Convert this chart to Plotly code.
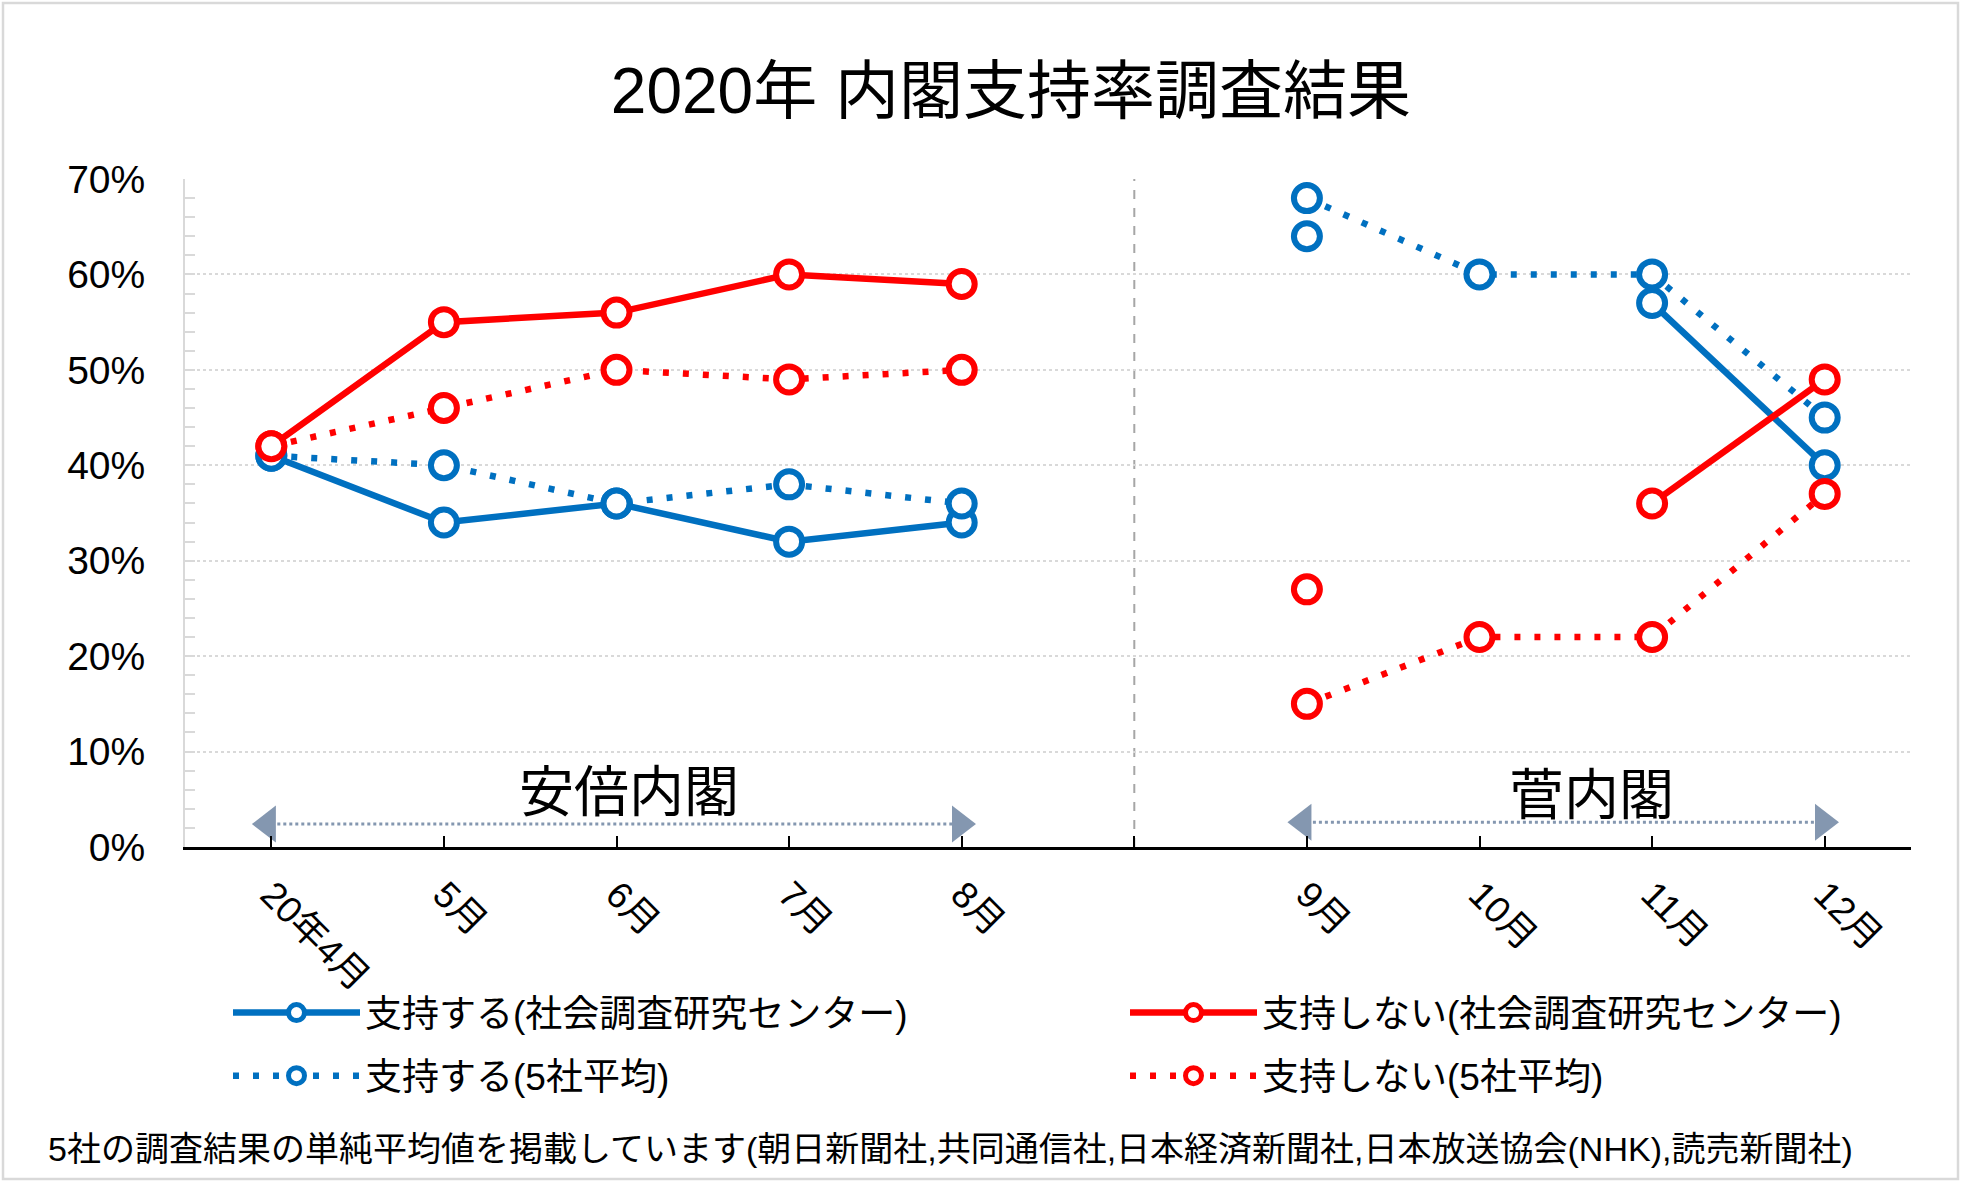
import plotly.graph_objects as go

# ---------------- data ----------------
categories = ["20年4月", "5月", "6月", "7月", "8月", "", "9月", "10月", "11月", "12月"]
support_center = [41, 34, 36, 32, 34, None, 64, None, 57, 40]
oppose_center = [42, 55, 56, 60, 59, None, 27, None, 36, 49]
support_avg5 = [41, 40, 36, 38, 36, None, 68, 60, 60, 45]
oppose_avg5 = [42, 46, 50, 49, 50, None, 15, 22, 22, 37]
series_names = ["支持する(社会調査研究センター)", "支持しない(社会調査研究センター)",
                "支持する(5社平均)", "支持しない(5社平均)"]
y_ticks = [0, 10, 20, 30, 40, 50, 60, 70]
y_tick_labels = ["0%", "10%", "20%", "30%", "40%", "50%", "60%", "70%"]
cabinet_labels = ["安倍内閣", "菅内閣"]
cabinet_spans = [("20年4月", "8月"), ("9月", "12月")]
title_text = "2020年 内閣支持率調査結果"
footnote = "5社の調査結果の単純平均値を掲載しています(朝日新聞社,共同通信社,日本経済新聞社,日本放送協会(NHK),読売新聞社)"

# ---------------- style ----------------
W, H = 1961, 1182
L, R, T, B = 185, 50, 179, 335
PW, PH = W - L - R, H - T - B
BLUE = "#0070C0"
RED = "#FF0000"
ARROW = "#8497B0"
FONT = "Liberation Sans, Arial, Noto Sans CJK JP, sans-serif"

xs = list(range(len(categories)))


def px_to_paper_x(px):
    return (px - L) / PW


def px_to_paper_y(py):
    return (H - B - py) / PH


fig = go.Figure()

specs = [
    (support_center, BLUE, "solid", series_names[0], "legend"),
    (oppose_center, RED, "solid", series_names[1], "legend2"),
    (support_avg5, BLUE, "6px,14px", series_names[2], "legend"),
    (oppose_avg5, RED, "6px,14px", series_names[3], "legend2"),
]
for k, (vals, col, dash, name, lg) in enumerate(specs):
    fig.add_trace(go.Scatter(
        x=xs, y=vals, name=name, mode="lines+markers",
        connectgaps=False, legend=lg, legendgroup=f"g{k}",
        line=dict(color=col, width=6.5, dash=dash),
        marker=dict(symbol="circle", size=26, color="white",
                    line=dict(color=col, width=6)),
    ))

# cabinet period arrows
gap_index = categories.index("")
for (a, b), label, ly, ty, dx in zip(cabinet_spans, cabinet_labels, [2.4, 2.6], [5.75, 5.5], [0.07, 0.15]):
    i0, i1 = categories.index(a), categories.index(b)
    fig.add_shape(type="line", x0=i0, x1=i1, y0=ly, y1=ly, xref="x", yref="y",
                  line=dict(color=ARROW, width=3, dash="dot"), layer="below")
    fig.add_trace(go.Scatter(
        x=[i0 - 0.02, i1 - 0.01], y=[ly, ly], mode="markers", showlegend=False,
        hoverinfo="skip",
        marker=dict(symbol=["triangle-left", "triangle-right"], size=32,
                    color=ARROW, line=dict(width=0)),
    ))
    fig.add_annotation(x=(i0 + i1) / 2 + dx, y=ty,
                       xref="x", yref="y", text=label, showarrow=False,
                       font=dict(family=FONT, size=55, color="black"),
                       xanchor="center", yanchor="middle")

# dashed separator at blank slot
fig.add_shape(type="line", x0=gap_index, x1=gap_index, y0=0, y1=70,
              xref="x", yref="y", line=dict(color="#A6A6A6", width=2, dash="dash"),
              layer="below")

# outer border
fig.add_shape(type="rect", xref="paper", yref="paper",
              x0=px_to_paper_x(3), x1=px_to_paper_x(W - 3),
              y0=px_to_paper_y(H - 3), y1=px_to_paper_y(3),
              line=dict(color="#D9D9D9", width=2.5), fillcolor="rgba(0,0,0,0)")

# footnote
fig.add_annotation(xref="paper", yref="paper", x=px_to_paper_x(46), y=px_to_paper_y(1149),
                   text=footnote, showarrow=False, xanchor="left", yanchor="middle",
                   font=dict(family=FONT, size=34, color="black"))

legend_common = dict(orientation="v", yanchor="top", itemwidth=127, tracegroupgap=12,
                     font=dict(family=FONT, size=37, color="black"),
                     bgcolor="rgba(0,0,0,0)", borderwidth=0)

fig.update_layout(
    width=W, height=H,
    margin=dict(l=L, r=R, t=T, b=B, pad=0, autoexpand=False),
    paper_bgcolor="white", plot_bgcolor="white",
    font=dict(family=FONT, color="black"),
    title=dict(text=title_text, x=0.5155, xanchor="center", y=1 - 91 / H, yanchor="middle",
               yref="container", font=dict(family=FONT, size=64, color="black")),
    showlegend=True,
    legend=dict(x=px_to_paper_x(228), xanchor="left", y=px_to_paper_y(982), **legend_common),
    legend2=dict(x=px_to_paper_x(1125), xanchor="left", y=px_to_paper_y(982), **legend_common),
    xaxis=dict(
        range=[-0.5, len(categories) - 0.5], automargin=False,
        tickmode="array", tickvals=xs, ticktext=categories,
        tickangle=45, ticks="inside", ticklen=11, tickwidth=2, tickcolor="black",
        showline=True, linecolor="black", linewidth=3,
        showgrid=False, zeroline=False,
        tickfont=dict(family=FONT, size=37, color="black"),
        ticklabelstandoff=8,
    ),
    yaxis=dict(
        range=[0, 70], automargin=False,
        tickmode="array", tickvals=y_ticks, ticktext=y_tick_labels,
        ticks="inside", ticklen=10, tickcolor="#D9D9D9", tickwidth=2,
        showline=True, linecolor="#D9D9D9", linewidth=2,
        showgrid=True, gridcolor="#D9D9D9", gridwidth=2, griddash="dot",
        zeroline=False,
        minor=dict(dtick=2, ticks="inside", ticklen=10, tickcolor="#D9D9D9",
                   tickwidth=2, showgrid=False),
        tickfont=dict(family=FONT, size=39, color="black"),
        ticklabelstandoff=30,
    ),
)

fig.write_html("out.html", config={"displayModeBar": False},
               post_script="document.body.style.margin='0';document.body.style.overflow='hidden';")
